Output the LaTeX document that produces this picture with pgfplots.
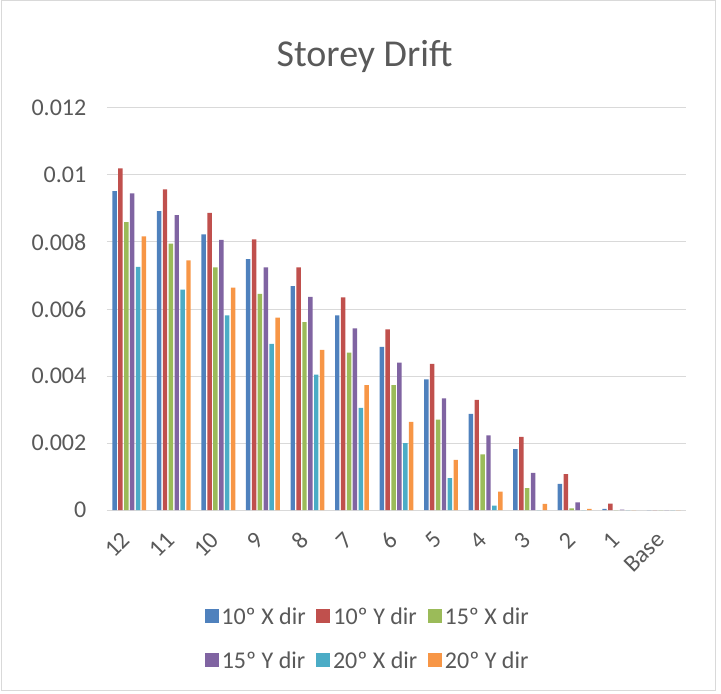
\documentclass[border=0pt]{standalone}
\usepackage{pgfplots}
\usepackage{pgfplotstable}
\pgfplotsset{compat=1.18}
\usepackage{fontspec}
\setmainfont{Carlito}

\definecolor{txt}{HTML}{595959}
\definecolor{gridc}{HTML}{D9D9D9}
\definecolor{cA}{HTML}{4F81BD}
\definecolor{cB}{HTML}{C0504D}
\definecolor{cC}{HTML}{9BBB59}
\definecolor{cD}{HTML}{8064A2}
\definecolor{cE}{HTML}{4BACC6}
\definecolor{cF}{HTML}{F79646}

% storeys 12 ... 1, Base at x = 0 ... 12
\pgfplotstableread{
x a b c d e f
0  0.00952 0.01020 0.00859 0.00945 0.00726 0.00817
1  0.00892 0.00957 0.00795 0.00880 0.00658 0.00745
2  0.00823 0.00887 0.00724 0.00806 0.00581 0.00664
3  0.00749 0.00808 0.00645 0.00724 0.00496 0.00574
4  0.00668 0.00724 0.00561 0.00636 0.00404 0.00478
5  0.00581 0.00635 0.00470 0.00542 0.00305 0.00373
6  0.00487 0.00539 0.00373 0.00440 0.00200 0.00263
7  0.00390 0.00436 0.00270 0.00333 0.00095 0.00150
8  0.00287 0.00329 0.00166 0.00223 0.00013 0.00055
9  0.00182 0.00218 0.00065 0.00111 0.00000 0.00018
10 0.00078 0.00107 0.00005 0.00023 0.00000 0.00003
11 0.00003 0.00019 0.00000 0.00001 0.00000 0.00000
12 0.00000 0.00000 0.00000 0.00000 0.00000 0.00000
}\drift

\begin{document}
\begin{tikzpicture}
\path[use as bounding box] (0pt,0pt) rectangle (540.75pt,519.75pt);
\draw[gridc, line width=0.75pt] (0.75pt,2.25pt) rectangle (536.25pt,519pt);
\node[anchor=base, text=txt, font=\fontsize{28.5}{34}\selectfont] at (273.4pt,469.5pt) {Storey Drift};
\begin{axis}[
  at={(80.25pt,137.25pt)}, anchor=south west,
  scale only axis, width=434.25pt, height=301.5pt,
  xmin=-0.5, xmax=12.5, ymin=0, ymax=0.012,
  enlargelimits=false,
  axis line style={draw=none},
  major tick length=0pt,
  ytick={0,0.002,0.004,0.006,0.008,0.01,0.012},
  yticklabels={0,0.002,0.004,0.006,0.008,0.01,0.012},
  scaled y ticks=false,
  xtick={0,...,12},
  xticklabels={12,11,10,9,8,7,6,5,4,3,2,1,Base},
  ymajorgrids, grid style={gridc, line width=0.75pt},
  ticklabel style={text=txt, font=\fontsize{18}{21}\selectfont},
  /pgf/number format/assume math mode=true,
  yticklabel style={xshift=-12pt},
  xticklabel style={rotate=45, anchor=east},
  xticklabel shift=17pt,
  ybar, bar width=0.1,
  legend columns=3,
  legend style={at={(0.451,-0.322)}, anchor=center, draw=none,
    font=\fontsize{18}{21}\selectfont, text=txt, row sep=15pt,
    /tikz/every even column/.append style={column sep=6pt}},
  legend image code/.code={\fill[#1] (0pt,-4pt) rectangle (10.5pt,6.5pt);},
]
\addplot[fill=cA, draw=none, bar shift=-0.33]  table[x=x, y=a] {\drift};
\addplot[fill=cB, draw=none, bar shift=-0.198] table[x=x, y=b] {\drift};
\addplot[fill=cC, draw=none, bar shift=-0.066] table[x=x, y=c] {\drift};
\addplot[fill=cD, draw=none, bar shift=0.066]  table[x=x, y=d] {\drift};
\addplot[fill=cE, draw=none, bar shift=0.198]  table[x=x, y=e] {\drift};
\addplot[fill=cF, draw=none, bar shift=0.33]   table[x=x, y=f] {\drift};
\legend{10º X dir, 10º Y dir, 15º X dir, 15º Y dir, 20º X dir, 20º Y dir}
\end{axis}
\end{tikzpicture}
\end{document}
